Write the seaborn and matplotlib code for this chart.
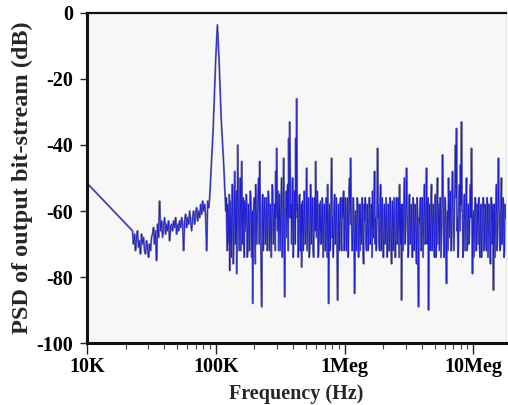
import numpy as np
import pandas as pd
import matplotlib
matplotlib.use("Agg")
import matplotlib.pyplot as plt
import seaborn as sns

# ---------------- data ----------------
# low-frequency start point
freq_start = [1.0e4]
psd_start = [-51.5]

# in-band noise region (approx. 22.6 kHz .. 89.8 kHz)
band_lo_edges = [22.6e3, 89.8e3]
psd_band_lo = [
    -66, -70, -67, -72, -68, -66, -71, -69, -73, -67, -70, -68, -72, -73, -69, -71, -74, -70, -72, -68,
    -67, -65, -70, -66, -75, -64, -68, -57, -66, -63, -68, -65, -62, -67, -64, -66, -63, -69, -65, -64,
    -66, -63, -65, -62, -67, -64, -66, -63, -65, -62, -64, -72, -63, -61, -65, -62, -64, -60, -63, -66,
    -62, -60, -64, -61, -59, -63, -60, -62, -58, -61, -57, -60, -58, -62, -72, -57, -59, -56,
]

# input tone peak
freq_peak = [95.6e3, 100.0e3, 103.1e3, 106.1e3, 110.3e3, 115.4e3]
psd_peak = [-35, -14, -3.6, -14, -32, -46]

# shaped noise region (approx. 119.7 kHz .. 17.9 MHz), two interleaved bin sets
band_hi_edges = [119.7e3, 17.9e6]
psd_band_hi_a = [
    -60, -66, -58, -70, -78, -57, -68, -55, -70, -48, -66, -79, -40, -64, -56, -72, -45, -62, -70, -57,
    -66, -58, -72, -60, -68, -56, -74, -88, -58, -66, -52, -70, -60, -50, -45, -68, -89, -55, -66, -60,
    -70, -58, -67, -56, -72, -60, -66, -54, -70, -58, -48, -41, -66, -72, -55, -64, -50, -70, -44, -86,
    -60, -68, -52, -38, -33, -62, -70, -50, -66, -56, -38, -26, -58, -68, -55, -64, -77, -57, -67, -60,
    -70, -47, -64, -58, -72, -52, -66, -60, -74, -56, -45, -68, -58, -72, -62, -57, -70, -60, -66, -58,
    -72, -60, -52, -88, -58, -66, -44, -62, -70, -55, -68, -60, -87, -58, -66, -56, -72, -62, -54, -68,
    -60, -72, -56, -66, -50, -44, -64, -70, -58, -85, -60, -68, -57, -74, -62, -58, -70, -60, -76, -63,
    -58, -72, -61, -67, -56, -70, -60, -54, -68, -48, -62, -70, -41, -58, -72, -52, -66, -60, -74, -58,
    -66, -62, -72, -58, -68, -60, -76, -57, -66, -62, -74, -56, -68, -60, -52, -70, -87, -58, -64, -50,
    -66, -47, -62, -72, -55, -68, -60, -74, -58, -66, -62, -76, -60, -89, -64, -56, -70, -58, -66, -52,
    -68, -47, -64, -90, -58, -70, -52, -66, -60, -74, -55, -68, -50, -64, -72, -56, -66, -43, -62, -70,
    -58, -82, -60, -50, -68, -56, -72, -48, -64, -58, -40, -35, -62, -70, -52, -46, -33, -60, -68, -55,
    -64, -50, -70, -58, -66, -52, -41, -79, -60, -66, -56, -72, -62, -58, -70, -60, -74, -62, -56, -68,
    -60, -72, -58, -66, -62, -76, -56, -68, -84, -58, -64, -52, -68, -44, -60, -70, -50, -64, -58, -72,
    -62,
]
psd_band_hi_b = [
    -56, -72, -62, -55, -66, -74, -52, -76, -58, -70, -54, -62, -56, -72, -50, -58, -70, -56, -74, -60,
    -55, -74, -58, -72, -54, -66, -60, -70, -56, -76, -58, -62, -54, -70, -58, -76, -60, -72, -56, -70,
    -56, -72, -54, -68, -58, -74, -52, -66, -60, -72, -62, -58, -54, -60, -72, -56, -74, -58, -70, -60,
    -54, -58, -72, -62, -48, -58, -56, -74, -54, -70, -60, -62, -74, -56, -72, -58, -60, -72, -54, -70,
    -58, -72, -56, -74, -60, -70, -56, -72, -58, -66, -60, -54, -74, -58, -70, -66, -56, -74, -58, -72,
    -56, -74, -64, -60, -72, -54, -68, -74, -58, -70, -56, -74, -64, -72, -58, -70, -56, -60, -72, -56,
    -70, -58, -74, -54, -64, -60, -72, -56, -70, -62, -72, -56, -70, -58, -72, -66, -56, -72, -58, -56,
    -70, -58, -72, -56, -70, -58, -74, -64, -56, -70, -72, -56, -62, -70, -58, -72, -56, -74, -60, -70,
    -56, -74, -58, -72, -56, -70, -60, -72, -56, -74, -58, -70, -56, -74, -64, -58, -62, -72, -56, -70,
    -58, -62, -74, -56, -70, -58, -74, -56, -72, -58, -70, -56, -74, -62, -58, -72, -56, -74, -58, -70,
    -58, -70, -56, -64, -72, -56, -72, -58, -70, -56, -74, -56, -70, -58, -56, -74, -58, -54, -74, -56,
    -70, -62, -72, -58, -54, -72, -56, -60, -72, -52, -56, -66, -74, -56, -66, -58, -60, -74, -56, -72,
    -56, -72, -58, -70, -56, -62, -60, -62, -74, -56, -72, -58, -70, -56, -74, -58, -70, -56, -72, -58,
    -70, -56, -74, -58, -72, -56, -70, -58, -62, -74, -56, -72, -58, -60, -72, -56, -70, -56, -74, -58,
    -60,
]

x_ticks = [1e4, 1e5, 1e6, 1e7]
x_tick_labels = ["10K", "100K", "1Meg", "10Meg"]
y_ticks = [0, -20, -40, -60, -80, -100]

# ---------------- assemble ----------------
psd_band_hi = np.column_stack([psd_band_hi_a, psd_band_hi_b]).ravel()
freq = np.concatenate([
    freq_start,
    np.geomspace(band_lo_edges[0], band_lo_edges[1], len(psd_band_lo)),
    freq_peak,
    np.geomspace(band_hi_edges[0], band_hi_edges[1], len(psd_band_hi)),
])
psd = np.concatenate([psd_start, psd_band_lo, psd_peak, psd_band_hi])
df = pd.DataFrame({"freq": freq, "psd": psd})

sns.set_style("white")
plt.rcParams["font.family"] = ["Liberation Serif", "DejaVu Serif"]
plt.rcParams["font.weight"] = "bold"

fig = plt.figure(figsize=(5.08, 4.05), dpi=100)
ax = fig.add_axes([0.171, 0.153, 0.825, 0.815])
ax.set_facecolor("#f7f7f7")

sns.lineplot(data=df, x="freq", y="psd", ax=ax, estimator=None, sort=False,
             color="#76769e", linewidth=1.4)
sns.lineplot(data=df, x="freq", y="psd", ax=ax, estimator=None, sort=False,
             color="#1e1ed6", linewidth=0.55)

ax.set_xscale("log")
ax.set_xlim(1e4, 1.79e7)
ax.set_ylim(-100, 0)

ax.set_xticks(x_ticks)
ax.set_xticklabels(x_tick_labels)
ax.set_yticks(y_ticks)
ax.set_yticklabels([str(v) for v in y_ticks])

ax.tick_params(axis="x", which="major", direction="out", length=8, width=1.0,
               labelsize=14.5, pad=2, bottom=True, colors="#222222")
ax.tick_params(axis="x", which="minor", direction="out", length=4, width=0.8,
               bottom=True, colors="#444444")
ax.tick_params(axis="y", which="major", direction="out", length=5, width=1.0,
               labelsize=14.5, pad=5, left=True, colors="#222222")
for lab in ax.get_xticklabels() + ax.get_yticklabels():
    lab.set_fontweight("bold")
    lab.set_color("black")

ax.set_xlabel("Frequency (Hz)", fontsize=14.5, fontweight="bold", labelpad=5)
ax.set_ylabel("PSD of output bit-stream (dB)", fontsize=17.5, fontweight="bold", labelpad=2)

for side in ["left", "bottom"]:
    ax.spines[side].set_color("#111111")
    ax.spines[side].set_linewidth(2.2)
ax.spines["top"].set_color("#111111")
ax.spines["top"].set_linewidth(1.6)
ax.spines["right"].set_color("#e6e6e6")
ax.spines["right"].set_linewidth(0.8)

fig.savefig("out.png", dpi=100, facecolor="white")
